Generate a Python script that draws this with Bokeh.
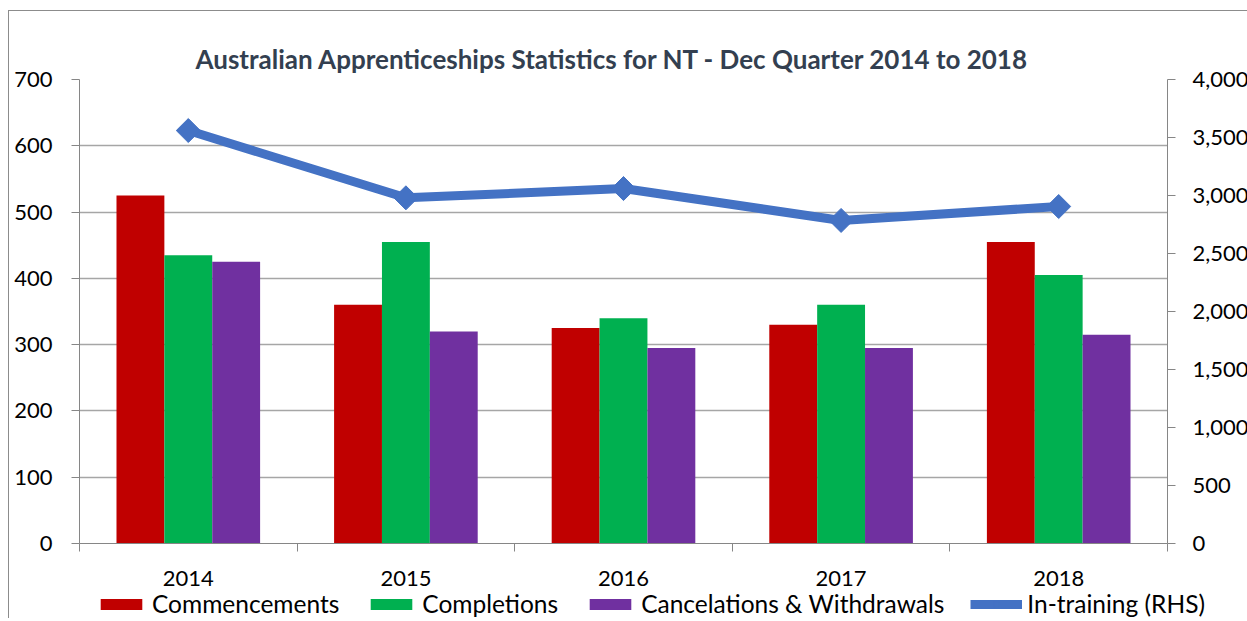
import numpy as np
from bokeh.plotting import figure
from bokeh.layouts import column
from bokeh.models import (Range1d, LinearAxis, FixedTicker, SingleIntervalTicker,
                          NumeralTickFormatter, Legend, LegendItem, Title)
from bokeh.embed import file_html
from bokeh.resources import INLINE

years = ["2014", "2015", "2016", "2017", "2018"]
commencements = [525, 360, 325, 330, 455]
completions = [435, 455, 340, 360, 405]
cancelations = [425, 320, 295, 295, 315]
in_training = [3560, 2980, 3060, 2785, 2905]
series_names = ["Commencements", "Completions", "Cancelations & Withdrawals", "In-training (RHS)"]

FONT = "Lato"
GRAY = "#868686"
RED, GREEN, PURPLE, BLUE = "#C00000", "#00B050", "#7030A0", "#4472C4"

centers = np.arange(len(years)) + 0.5
bounds = list(np.arange(len(years) + 1).astype(float))
w = 0.22


def draw_series(fig, rhs_name=None):
    kw = {} if rhs_name is None else {"y_range_name": rhs_name}
    a = fig.vbar(x=centers - w, top=commencements, width=w, fill_color=RED, line_color=None)
    b = fig.vbar(x=centers, top=completions, width=w, fill_color=GREEN, line_color=None)
    c = fig.vbar(x=centers + w, top=cancelations, width=w, fill_color=PURPLE, line_color=None)
    d = fig.line(x=centers, y=in_training, line_color=BLUE, line_width=9, **kw)
    e = fig.scatter(x=centers, y=in_training, marker="square", size=17, angle=np.pi / 4,
                    fill_color=BLUE, line_color=BLUE, **kw)
    return a, b, c, d, e


p = figure(frame_width=1088, frame_height=464, output_backend="svg", toolbar_location=None,
           x_range=Range1d(0, len(years)), y_range=Range1d(0, 700),
           min_border_left=70, min_border_right=80, min_border_top=68,
           min_border_bottom=52)
p.outline_line_color = None
p.extra_y_ranges = {"rhs": Range1d(0, 4000)}

p.title = Title(text="Australian Apprenticeships Statistics for NT - Dec Quarter  2014 to 2018",
                text_font=FONT, text_font_size="26px", text_font_style="bold",
                text_color="#333F50", align="left", offset=116, standoff=9)

draw_series(p, "rhs")

# axes
xa = p.xaxis[0]
xa.ticker = FixedTicker(ticks=list(centers), minor_ticks=bounds)
xa.major_label_overrides = {float(c): y for c, y in zip(centers, years)}
xa.major_tick_out = 0
xa.major_tick_in = 0
xa.minor_tick_out = 8
xa.minor_tick_in = 0
xa.minor_tick_line_color = GRAY
xa.axis_line_color = GRAY
xa.major_label_standoff = 19
xa.major_label_text_font = FONT
xa.major_label_text_font_size = "22px"
xa.major_label_text_color = "black"

ya = p.yaxis[0]
ya.ticker = SingleIntervalTicker(interval=100)
ya.major_tick_out = 8
ya.major_tick_in = 0
ya.minor_tick_line_color = None
ya.axis_line_color = GRAY
ya.major_tick_line_color = GRAY
ya.major_label_standoff = 19
ya.major_label_text_font = FONT
ya.major_label_text_font_size = "22px"
ya.major_label_text_color = "black"

ra = LinearAxis(y_range_name="rhs", ticker=SingleIntervalTicker(interval=500),
                formatter=NumeralTickFormatter(format="0,0"))
ra.major_tick_out = 8
ra.major_tick_in = 0
ra.minor_tick_line_color = None
ra.axis_line_color = GRAY
ra.major_tick_line_color = GRAY
ra.major_label_standoff = 17
ra.major_label_text_font = FONT
ra.major_label_text_font_size = "22px"
ra.major_label_text_color = "black"
p.add_layout(ra, "right")

p.xgrid.visible = False
p.ygrid.grid_line_color = "#A6A6A6"
p.ygrid.grid_line_width = 1.5
p.ygrid.ticker = SingleIntervalTicker(interval=100)

# legend strip: separate figure (series drawn out of its view) so the legend is not clipped
p2 = figure(frame_width=1238, frame_height=30, output_backend="svg", toolbar_location=None,
            x_axis_type=None, y_axis_type=None, x_range=Range1d(-100, -99),
            y_range=Range1d(-100, -99), min_border=0)
p2.outline_line_color = None
p2.grid.visible = False
p2.background_fill_color = None
p2.border_fill_color = None
g1, g2, g3, g4, g5 = draw_series(p2)

legend = Legend(items=[
    LegendItem(label=series_names[0], renderers=[g1]),
    LegendItem(label=series_names[1], renderers=[g2]),
    LegendItem(label=series_names[2], renderers=[g3]),
    LegendItem(label=series_names[3], renderers=[g4, g5]),
], orientation="horizontal", location=(86, 0), border_line_color=None,
    background_fill_alpha=0, label_text_font=FONT, label_text_font_size="24.5px",
    label_text_color="black", glyph_width=52, glyph_height=14, spacing=26,
    label_standoff=5, padding=0, margin=0)
p2.add_layout(legend, "center")
p2.styles = {"margin-top": "-7px"}

layout = column(p, p2, spacing=0)
layout.styles = {"border-left": "1px solid #8c8c8c", "border-top": "1px solid #8c8c8c",
                 "margin-left": "8px", "margin-top": "10px"}

open("out.html", "w").write(file_html(layout, INLINE))
